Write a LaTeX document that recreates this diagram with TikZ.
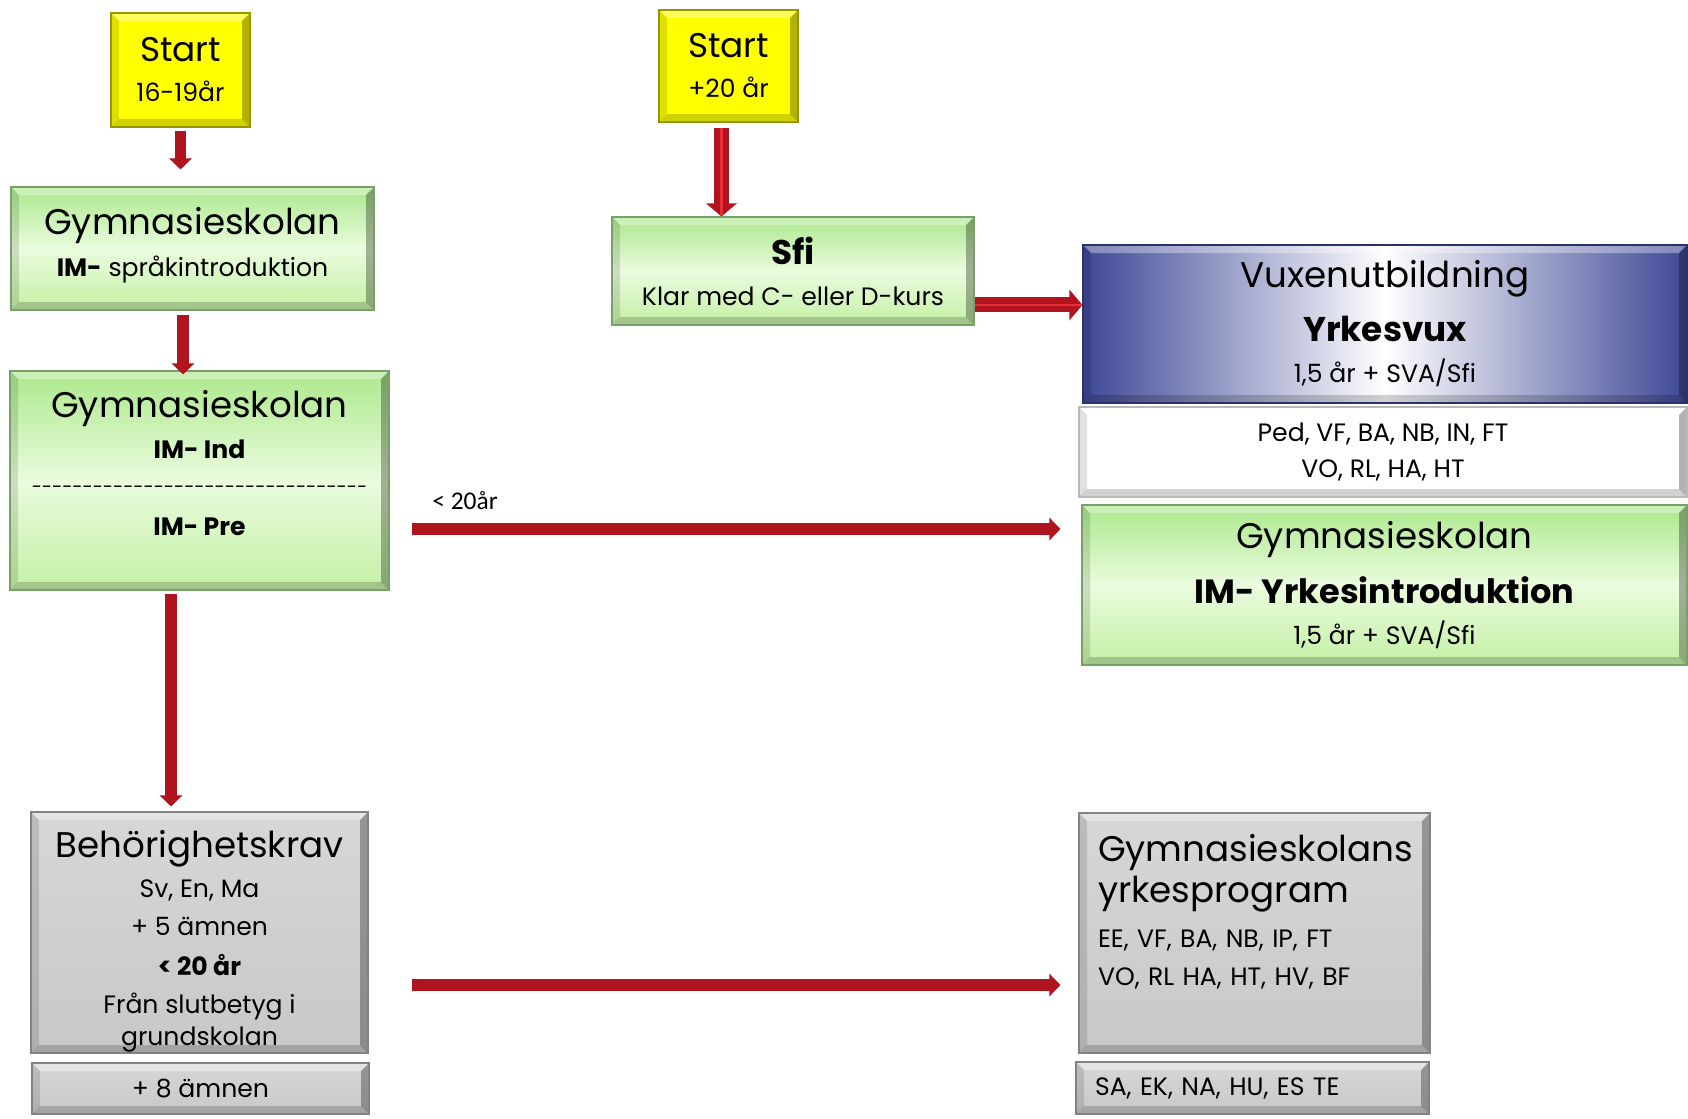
\documentclass[tikz,border=0pt]{standalone}
\usepackage{fontspec}
\setmainfont{Poppins}
\newfontfamily\labelfont{Carlito}
\usepackage{tikz}
\usetikzlibrary{positioning, arrows.meta, calc}

\definecolor{ArrowRed}{RGB}{176,20,30}
\definecolor{ArrowLight}{RGB}{236,45,55}
\definecolor{GreenTop}{RGB}{172,232,140}
\definecolor{GreenMid}{RGB}{234,252,222}
\definecolor{GreenBot}{RGB}{196,240,165}
\definecolor{GreenEdge}{RGB}{120,160,105}
\definecolor{YellowFill}{RGB}{255,255,0}
\definecolor{YellowEdge}{RGB}{150,150,0}
\definecolor{GrayTop}{RGB}{215,215,215}
\definecolor{GrayFill}{RGB}{200,200,200}
\definecolor{GrayEdge}{RGB}{130,130,130}
\definecolor{VuxBlue}{RGB}{62,72,150}

\newcommand{\headfont}{\fontsize{20.3}{22.76}\selectfont}
\newcommand{\bodyfont}{\fontsize{14.3}{22.76}\selectfont}
\newcommand{\dashrow}{{\fontsize{10.5}{12}\selectfont\foreach \d in {1,...,33}{-}}}

\tikzset{bevel/.style={path picture={
    \coordinate (bsw) at (path picture bounding box.south west);
    \coordinate (bne) at (path picture bounding box.north east);
    \coordinate (bnw) at (path picture bounding box.north west);
    \coordinate (bse) at (path picture bounding box.south east);
    \fill[white, opacity=0.35] (bnw) -- (bne) -- ($(bne)+(-0.16cm,-0.16cm)$) -- ($(bnw)+(0.16cm,-0.16cm)$) -- cycle;
    \fill[black, opacity=0.3] (bne) -- (bse) -- ($(bse)+(-0.16cm,0.16cm)$) -- ($(bne)+(-0.16cm,-0.16cm)$) -- cycle;
    \fill[black, opacity=0.18] (bse) -- (bsw) -- ($(bsw)+(0.16cm,0.16cm)$) -- ($(bse)+(-0.16cm,0.16cm)$) -- cycle;
    \fill[black, opacity=0.12] (bsw) -- (bnw) -- ($(bnw)+(0.16cm,-0.16cm)$) -- ($(bsw)+(0.16cm,0.16cm)$) -- cycle;
}}}

\tikzstyle{box} = [rectangle, inner sep=0pt, align=center, line width=0.6pt, font=\bodyfont, bevel]
\tikzstyle{startbox} = [box, draw=YellowEdge, fill=YellowFill]
\tikzstyle{greenbox} = [box, draw=GreenEdge, top color=GreenTop, bottom color=GreenBot, middle color=GreenMid]
\tikzstyle{graybox} = [box, draw=GrayEdge, top color=GrayTop, bottom color=GrayFill]
\tikzstyle{vuxbox} = [box, draw=VuxBlue!70!black, left color=VuxBlue, right color=VuxBlue, middle color=white]
\tikzstyle{whitebox} = [box, draw=gray!55, fill=white]
\tikzstyle{arrow} = [ArrowRed, line width=0.23cm, -{Triangle[width=0.44cm, length=0.22cm]}]
\tikzstyle{fatarrow} = [ArrowRed, line width=0.3cm, -{Triangle[width=0.6cm, length=0.26cm]}, postaction={draw=ArrowLight, line width=0.05cm, -}]
\tikzset{boxsize/.style 2 args={minimum width=#1*0.02cm, minimum height=#2*0.02cm}}

\begin{document}
\begin{tikzpicture}[x=0.02cm, y=-0.02cm]
    \useasboundingbox (0,0) rectangle (1688,1119);

    % Left column: 16-19 years
    \node[startbox, boxsize={139}{114}] (start1) at (180.5,70) {{\fontsize{19.5}{22}\selectfont Start}\\{16-19år}};
    \node[greenbox, boxsize={363}{123}] (gym1) at (192.5,248.5) {{\headfont Gymnasieskolan}\\[0.04cm]{\textbf{IM-} språkintroduktion}\\[-0.52cm]\mbox{}};
    \node[greenbox, boxsize={379}{219}] (gym2) at (199.5,480.5) {{\headfont Gymnasieskolan}\\[0.02cm]\textbf{IM- Ind}\\[-0.1cm]\dashrow\\[0.04cm]\textbf{IM- Pre}\\[-0.1cm]\mbox{}};
    \node[graybox, boxsize={337}{241}] (behor) at (199.5,932.5) {{\headfont\rule{0pt}{26pt}Behörighetskrav}\\Sv, En, Ma\\[-0.04cm]+ 5 ämnen\\\textbf{< 20 år}\\[-0.04cm]Från slutbetyg i\\[-0.16cm]grundskolan};
    \node[graybox, boxsize={337}{51}] (plus8) at (200.5,1088.5) {+ 8 ämnen};

    % Middle: 20+ years
    \node[startbox, boxsize={139}{112}] (start2) at (728.5,66) {{\fontsize{19.5}{22}\selectfont Start}\\{+20 år}};
    \node[greenbox, boxsize={362}{108}] (sfi) at (793,271) {{\fontsize{19.5}{22}\selectfont\bfseries Sfi}\\[0.02cm]Klar med C- eller D-kurs};

    % Right column
    \node[vuxbox, boxsize={604}{158}] (vux) at (1385,324) {{\headfont Vuxenutbildning}\\[0.28cm]{\fontsize{19.5}{22}\selectfont\bfseries Yrkesvux}\\[0.02cm]1,5 år + SVA/Sfi};
    \node[whitebox, boxsize={608}{90}] (yrken) at (1383,452) {Ped, VF, BA, NB, IN, FT\\[-0.06cm]VO, RL, HA, HT};
    \node[greenbox, boxsize={605}{160}] (gymyrk) at (1384.5,585) {{\headfont Gymnasieskolan}\\[0.3cm]{\fontsize{19.1}{22}\selectfont\bfseries IM- Yrkesintroduktion}\\[0.02cm]1,5 år + SVA/Sfi};
    \node[graybox, boxsize={351}{240}, text width=6.26cm, align=left] (gymprog) at (1254.5,933) {{\headfont Gymnasieskolans}\\[0.02cm]{\headfont yrkesprogram}\\[0.1cm]EE, VF, BA, NB, IP, FT\\[-0.04cm]VO, RL HA, HT, HV, BF\\[0.14cm]\mbox{}};
    \node[graybox, boxsize={353}{52}, text width=6.3cm, align=left] (progplus) at (1252.5,1088) {SA, EK, NA, HU, ES TE};

    \node[anchor=base west, font=\labelfont\fontsize{14.5}{16}\selectfont, inner sep=0pt] (under20) at (432,509) {< 20år};

    % Arrows
    \coordinate (g1out) at ([xshift=-0.19cm]gym1.south);
    \coordinate (g2out) at ([xshift=-0.57cm]gym2.south);
    \coordinate (g2right) at ([yshift=-0.97cm]gym2.east);
    \coordinate (behright) at ([yshift=-1.05cm]behor.east);
    \coordinate (s2out) at ([xshift=-0.14cm]start2.south);
    \coordinate (sfiright) at ([yshift=-0.68cm]sfi.east);

    \draw[arrow, shorten <=0.06cm, shorten >=0.34cm] (start1.south) -- (start1.south |- gym1.north);
    \draw[arrow, shorten <=0.08cm, shorten >=-0.08cm] (g1out) -- (g1out |- gym2.north);
    \draw[arrow, shorten <=0.06cm, shorten >=0.1cm] (g2out) -- (g2out |- behor.north);
    \draw[arrow, shorten <=0.44cm, shorten >=0.42cm] (g2right) -- (g2right -| gymyrk.west);
    \draw[arrow, shorten <=0.86cm, shorten >=0.36cm] (behright) -- (behright -| gymprog.west);
    \draw[fatarrow, shorten <=0.1cm] (s2out) -- (s2out |- sfi.north);
    \draw[fatarrow] (sfiright) -- (sfiright -| vux.west);
\end{tikzpicture}
\end{document}
